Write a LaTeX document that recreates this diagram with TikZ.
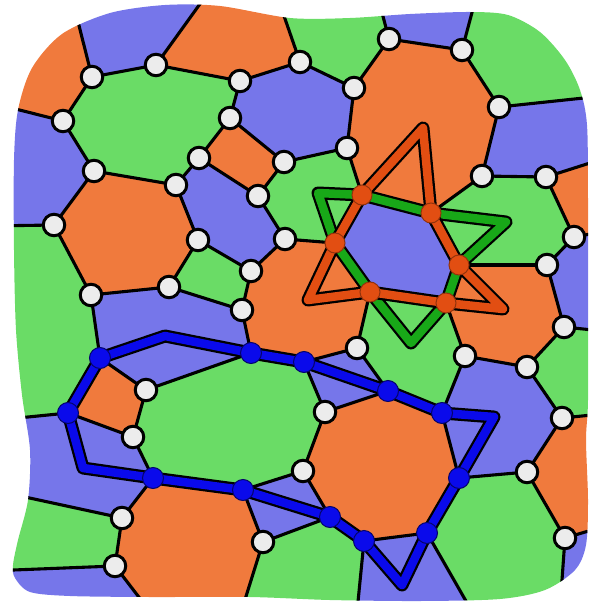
\documentclass[tikz,border=0pt]{standalone}
\definecolor{fo}{RGB}{240,122,61}
\definecolor{fg}{RGB}{106,220,102}
\definecolor{fb}{RGB}{118,118,234}
\definecolor{nodefill}{RGB}{236,236,236}
\definecolor{lb}{RGB}{10,10,235}
\definecolor{lr}{RGB}{226,78,18}
\definecolor{lg}{RGB}{24,168,24}
\begin{document}
\begin{tikzpicture}[x=1pt,y=-1pt,
  edge/.style={line width=3.1pt,black,line cap=round},
  vtx/.style={circle,draw=black,line width=3pt,fill=nodefill,minimum size=21.5pt,inner sep=0pt},
  bdot/.style={circle,draw=black!55!lb,line width=1pt,fill=lb,minimum size=21pt,inner sep=0pt},
  rdot/.style={circle,draw=black!35!lr,line width=1pt,fill=lr,minimum size=20pt,inner sep=0pt},
  loopout/.style={draw=black,line width=13pt,line join=round,line cap=round},
  loopin/.style={draw=#1,line width=8.5pt,line join=round,line cap=round}]
\useasboundingbox (0,0) rectangle (589,602);
% graph vertices
\coordinate (A1) at (92,77);   \coordinate (A2) at (156,65);  \coordinate (A3) at (240,81);
\coordinate (A4) at (300,62);  \coordinate (A5) at (230,118); \coordinate (A6) at (63,121);
\coordinate (A7) at (94,171);  \coordinate (A8) at (176,185); \coordinate (A9) at (199,158);
\coordinate (A10) at (284,162);\coordinate (A11) at (258,196);\coordinate (A12) at (54,225);
\coordinate (A13) at (198,240);\coordinate (A14) at (285,239);\coordinate (A15) at (251,271);
\coordinate (A16) at (91,295); \coordinate (A17) at (169,287);\coordinate (A18) at (242,310);
\coordinate (B1) at (389,39);  \coordinate (B2) at (462,50);  \coordinate (B3) at (354,88);
\coordinate (B4) at (499,107); \coordinate (B5) at (347,148); \coordinate (B6) at (482,176);
\coordinate (B7) at (546,177); \coordinate (B8) at (574,237); \coordinate (B9) at (547,265);
\coordinate (B10) at (564,327);\coordinate (B11) at (527,367);\coordinate (B12) at (465,356);
\coordinate (B13) at (357,348);
\coordinate (R1) at (362,195); \coordinate (R2) at (431,213); \coordinate (R3) at (459,265);
\coordinate (R4) at (446,303); \coordinate (R5) at (370,292); \coordinate (R6) at (335,243);
\coordinate (L1) at (100,358); \coordinate (L2) at (251,353); \coordinate (L3) at (304,362);
\coordinate (L4) at (388,391); \coordinate (L5) at (442,413); \coordinate (L6) at (459,478);
\coordinate (L7) at (427,533); \coordinate (L8) at (364,541); \coordinate (L9) at (330,517);
\coordinate (L10) at (243,490);\coordinate (L11) at (153,478);\coordinate (L12) at (68,413);
\coordinate (C1) at (146,390); \coordinate (C2) at (133,437); \coordinate (C3) at (325,412);
\coordinate (C4) at (303,471); \coordinate (C5) at (122,518); \coordinate (C6) at (115,566);
\coordinate (C7) at (263,542); \coordinate (C8) at (562,418); \coordinate (C9) at (527,472);
\coordinate (C10) at (565,538);
% border ends (outside the outline, clipped)
\coordinate (T1) at (70,-10);  \coordinate (T2) at (210,-10); \coordinate (T3) at (275,-10);
\coordinate (T4) at (376,-10); \coordinate (T5) at (478,-10);
\coordinate (E1) at (612,95);  \coordinate (E2) at (612,156); \coordinate (E3) at (612,230);
\coordinate (E4) at (612,332); \coordinate (E5) at (612,413); \coordinate (E6) at (612,524);
\coordinate (S1) at (559,622); \coordinate (S2) at (478,622); \coordinate (S3) at (356,622);
\coordinate (S4) at (238,622); \coordinate (S5) at (158,622);
\coordinate (W1) at (-12,571); \coordinate (W2) at (-12,489); \coordinate (W3) at (-12,421);
\coordinate (W4) at (-12,226); \coordinate (W5) at (-12,102);
\coordinate (KTL) at (-12,-12); \coordinate (KTR) at (612,-12);
\coordinate (KBR) at (612,622); \coordinate (KBL) at (-12,622);
% loop corners
\coordinate (Q1) at (165,336); \coordinate (Q2) at (494,417);
\coordinate (Q3) at (402,585); \coordinate (Q4) at (83,468);
\coordinate (P1) at (423,128); \coordinate (P2) at (308,300); \coordinate (P3) at (503,309);
\coordinate (G1) at (318,193); \coordinate (G2) at (506,222); \coordinate (G3) at (411,343);
\begin{scope}
\clip plot[smooth cycle] coordinates {(14,250) (14,160) (18,110) (32,68) (62,34) (110,13)
 (165,5) (220,6) (290,18) (350,18) (410,14) (470,12) (508,15) (540,32) (565,60) (580,90)
 (587,125) (588,200) (588,300) (588,400) (586,440) (588,500) (586,545) (575,570) (545,590)
 (500,599) (420,601) (330,600) (250,597) (150,597) (70,596) (30,592) (15,578) (13,565)
 (18,540) (28,500) (30,450) (22,395) (16,330)};
% boundary faces
\fill[fo] (T1)--(A1)--(A6)--(W5)--(KTL)--cycle;
\fill[fb] (T1)--(A1)--(A2)--(T2)--cycle;
\fill[fo] (T2)--(A2)--(A3)--(A4)--(T3)--cycle;
\fill[fg] (T3)--(A4)--(B3)--(B1)--(T4)--cycle;
\fill[fb] (T4)--(B1)--(B2)--(T5)--cycle;
\fill[fg] (T5)--(B2)--(B4)--(E1)--(KTR)--cycle;
\fill[fb] (E1)--(B4)--(B6)--(B7)--(E2)--cycle;
\fill[fo] (E2)--(B7)--(B8)--(E3)--cycle;
\fill[fb] (E3)--(B8)--(B9)--(B10)--(E4)--cycle;
\fill[fg] (E4)--(B10)--(B11)--(C8)--(E5)--cycle;
\fill[fo] (E5)--(C8)--(C9)--(C10)--(E6)--cycle;
\fill[fb] (E6)--(C10)--(S1)--(KBR)--cycle;
\fill[fg] (L6)--(C9)--(C10)--(S1)--(S2)--(L7)--cycle;
\fill[fb] (L8)--(L7)--(S2)--(S3)--cycle;
\fill[fg] (C7)--(L9)--(L8)--(S3)--(S4)--cycle;
\fill[fo] (C5)--(L11)--(L10)--(C7)--(S4)--(S5)--(C6)--cycle;
\fill[fb] (W1)--(C6)--(S5)--(KBL)--cycle;
\fill[fg] (W2)--(C5)--(C6)--(W1)--cycle;
\fill[fb] (W3)--(L12)--(C2)--(L11)--(C5)--(W2)--cycle;
\fill[fg] (W4)--(A12)--(A16)--(L1)--(L12)--(W3)--cycle;
\fill[fb] (W5)--(A6)--(A7)--(A12)--(W4)--cycle;
% interior faces
\fill[fg] (A1)--(A2)--(A3)--(A5)--(A9)--(A8)--(A7)--(A6)--cycle;
\fill[fb] (A3)--(A4)--(B3)--(B5)--(A10)--(A5)--cycle;
\fill[fo] (A5)--(A10)--(A11)--(A9)--cycle;
\fill[fo] (A7)--(A8)--(A13)--(A17)--(A16)--(A12)--cycle;
\fill[fb] (A8)--(A9)--(A11)--(A14)--(A15)--(A13)--cycle;
\fill[fg] (A11)--(A10)--(B5)--(R1)--(R6)--(A14)--cycle;
\fill[fg] (A13)--(A15)--(A18)--(A17)--cycle;
\fill[fb] (A16)--(A17)--(A18)--(L2)--(C1)--(L1)--cycle;
\fill[fo] (A14)--(R6)--(R5)--(B13)--(L3)--(L2)--(A18)--(A15)--cycle;
\fill[fo] (B1)--(B2)--(B4)--(B6)--(R2)--(R1)--(B5)--(B3)--cycle;
\fill[fb] (R1)--(R2)--(R3)--(R4)--(R5)--(R6)--cycle;
\fill[fg] (R2)--(B6)--(B7)--(B8)--(B9)--(R3)--cycle;
\fill[fo] (R3)--(B9)--(B10)--(B11)--(B12)--(R4)--cycle;
\fill[fg] (R5)--(R4)--(B12)--(L5)--(L4)--(B13)--cycle;
\fill[fb] (B12)--(B11)--(C8)--(C9)--(L6)--(L5)--cycle;
\fill[fb] (B13)--(L4)--(C3)--(L3)--cycle;
\fill[fo] (C3)--(L4)--(L5)--(L6)--(L7)--(L8)--(L9)--(C4)--cycle;
\fill[fg] (L2)--(C1)--(C2)--(L11)--(L10)--(C4)--(C3)--(L3)--cycle;
\fill[fb] (L10)--(C4)--(L9)--(C7)--cycle;
\fill[fo] (L1)--(C1)--(C2)--(L12)--cycle;
% edges
\foreach \a/\b in {A1/T1,A2/T2,A4/T3,B1/T4,B2/T5,B4/E1,B7/E2,B8/E3,B10/E4,C8/E5,C10/E6,
 C10/S1,L7/S2,L8/S3,C7/S4,C6/S5,C6/W1,C5/W2,L12/W3,A12/W4,A6/W5,
 A1/A2,A1/A6,A2/A3,A3/A4,A3/A5,A4/B3,A5/A9,A5/A10,A6/A7,A7/A8,A7/A12,A8/A9,A8/A13,
 A9/A11,A10/A11,A10/B5,A11/A14,A12/A16,A13/A15,A13/A17,A14/A15,A14/R6,A15/A18,
 A16/A17,A16/L1,A17/A18,A18/L2,
 B1/B2,B1/B3,B2/B4,B3/B5,B4/B6,B5/R1,B6/B7,B6/R2,B7/B8,B8/B9,B9/B10,B9/R3,B10/B11,
 B11/B12,B11/C8,B12/R4,B12/L5,B13/R5,B13/L3,B13/L4,
 R1/R2,R2/R3,R3/R4,R4/R5,R5/R6,R6/R1,
 L1/L12,L1/C1,L2/L3,L2/C1,L3/C3,L4/C3,L4/L5,L5/L6,L6/L7,L6/C9,L7/L8,L8/L9,L9/C4,
 L9/C7,L10/L11,L10/C4,L10/C7,L11/C2,L11/C5,L12/C2,
 C1/C2,C3/C4,C5/C6,C8/C9,C9/C10}
 {\draw[edge] (\a)--(\b);}
\end{scope}
% white vertices
\foreach \v in {A1,A2,A3,A4,A5,A6,A7,A8,A9,A10,A11,A12,A13,A14,A15,A16,A17,A18,
 B1,B2,B3,B4,B5,B6,B7,B8,B9,B10,B11,B12,B13,C1,C2,C3,C4,C5,C6,C7,C8,C9,C10}
 {\node[vtx] (v\v) at (\v) {};}
% loops
\draw[loopout] (L1)--(Q1)--(L2)--(L3)--(L4)--(L5)--(Q2)--(L6)--(L7)--(Q3)--(L8)--(L9)
 --(L10)--(L11)--(Q4)--(L12)--cycle;
\draw[loopin=lb] (L1)--(Q1)--(L2)--(L3)--(L4)--(L5)--(Q2)--(L6)--(L7)--(Q3)--(L8)--(L9)
 --(L10)--(L11)--(Q4)--(L12)--cycle;
\draw[loopout] (G1)--(R1)--(R2)--(G2)--(R3)--(R4)--(G3)--(R5)--(R6)--cycle;
\draw[loopin=lg] (G1)--(R1)--(R2)--(G2)--(R3)--(R4)--(G3)--(R5)--(R6)--cycle;
\draw[loopout] (P1)--(R1)--(R6)--(P2)--(R5)--(R4)--(P3)--(R3)--(R2)--cycle;
\draw[loopin=lr] (P1)--(R1)--(R6)--(P2)--(R5)--(R4)--(P3)--(R3)--(R2)--cycle;
\foreach \v in {L1,L2,L3,L4,L5,L6,L7,L8,L9,L10,L11,L12}
 {\node[bdot] (d\v) at (\v) {};}
\foreach \v in {R1,R2,R3,R4,R5,R6}
 {\node[rdot] (d\v) at (\v) {};}
\end{tikzpicture}
\end{document}
